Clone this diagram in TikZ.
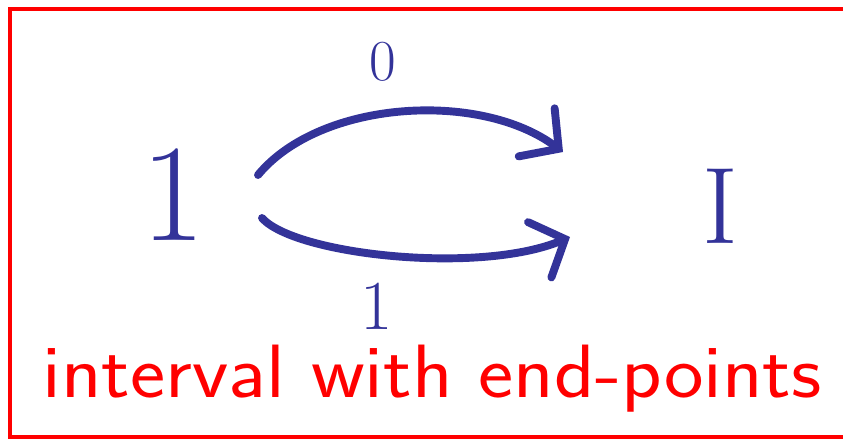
\documentclass[tikz,border=0pt]{standalone}
\usepackage{tikz}
\usepackage{xcolor}
\usetikzlibrary{arrows.meta}

\definecolor{penblue}{RGB}{51,51,153}
\definecolor{penred}{RGB}{255,0,0}

\begin{document}
\begin{tikzpicture}[
        pen/.style={penblue, line width=4.5pt, line cap=round,
            -{Straight Barb[length=0.55cm, width=1.2cm, line cap=round]}},
    ]
        \useasboundingbox (0,0) rectangle (16.86,8.82);
        \draw[penred, line width=2.8pt] (16.9,8.64) -- (0.2,8.64) -- (0.2,0.08) -- (16.9,0.08);

        \node (one)  at (  3.46, 4.02) [anchor=base, inner sep=0pt, text=penblue] {\fontsize{79}{80}\selectfont 1};
        \node (intv) at ( 14.40, 3.96) [anchor=base, inner sep=0pt, text=penblue] {\fontsize{62}{64}\selectfont I};
        \node (lab0) at (  7.66, 7.22) [anchor=base, inner sep=0pt, text=penblue] {\fontsize{33}{34}\selectfont 0};
        \node (lab1) at (  7.54, 2.24) [anchor=base, inner sep=0pt, text=penblue] {\fontsize{40}{42}\selectfont 1};
        \node (cap)  at (  8.64, 0.88) [anchor=base, inner sep=0pt, text=penred] {\scalebox{1.11}[1]{\fontsize{43}{44}\selectfont\sffamily interval with end-points}};

        \coordinate (s0) at ( 5.16, 5.32);
        \coordinate (t0) at (11.26, 5.78);
        \coordinate (s1) at ( 5.24, 4.46);
        \coordinate (t1) at (11.40, 4.08);

        \draw[pen] (s0) .. controls (6.4,6.82) and (9.6,7.02) .. (t0);
        \draw[pen] (s1) .. controls (5.9,3.72) and (9.6,3.32) .. (t1);
    \end{tikzpicture}
\end{document}
